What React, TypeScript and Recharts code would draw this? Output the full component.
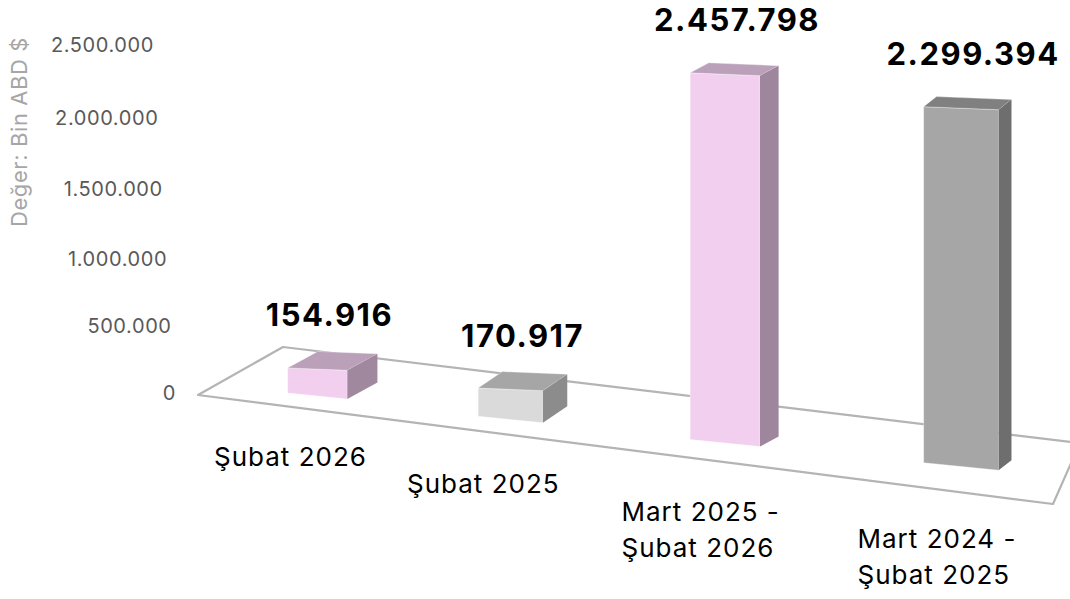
import React from 'react';
import { BarChart, Bar, XAxis, YAxis, ReferenceLine } from 'recharts';

const categories = ['Şubat 2026', 'Şubat 2025', 'Mart 2025 -\nŞubat 2026', 'Mart 2024 -\nŞubat 2025'];
const values = [154916, 170917, 2457798, 2299394];
const yTicks = [0, 500000, 1000000, 1500000, 2000000, 2500000];
const yLabel = 'Değer: Bin ABD $';

// front / top / side colours for each box
const boxColors = [
  { front: '#F2CEEF', top: '#BBA0BA', side: '#A0889F' },
  { front: '#DADADA', top: '#A6A6A6', side: '#8C8C8C' },
  { front: '#F2CEEF', top: '#BBA0BA', side: '#9E879D' },
  { front: '#A6A6A6', top: '#808080', side: '#6E6E6E' },
];

const data = categories.map((name, i) => ({ name, value: values[i] }));

const W = 1070;
const H = 599;
const PLOT_LEFT = 198;
const PLOT_RIGHT = 1050;
const PLOT_TOP = 45;
const ZERO_Y = 393;
const PLOT_W = PLOT_RIGHT - PLOT_LEFT;
const BAR_SIZE = 68;
const FONT = 'Inter, "Open Sans", sans-serif';

const fmt = (v: number) => String(Math.round(v)).replace(/\B(?=(\d{3})+(?!\d))/g, '.');

// fake perspective: maps a flat band centre to the tilted "3D" floor
const project = (bandCx: number, valueH: number) => {
  const u = (bandCx - PLOT_LEFT) / PLOT_W;
  const cx = PLOT_LEFT + 30.6 + 686 * u + 172 * u * u;
  const w = BAR_SIZE * (0.84 + 0.3 * u);
  const bottom = ZERO_Y + 93 * (u - 0.125);
  const h = valueH > 0 ? valueH * (0.96 + 0.16 * u) + 4 : 0;
  const lift = Math.min(h, 360) / 360;
  return { u, cx, w, bottom, top: bottom - h, dx: 33 - 23 * u, dy: -(17 - 7 * lift) };
};

const pts = (p: number[][]) => p.map((q) => q.join(',')).join(' ');

const Box3D = (props: any) => {
  const { x, width, height, index, value } = props;
  const g = project(x + width / 2, height);
  const L = g.cx - g.w / 2;
  const R = g.cx + g.w / 2;
  const tR = g.top + 0.04 * g.w;
  const bR = g.bottom + 0.1 * g.w;
  const c = boxColors[index % boxColors.length];
  return (
    <g>
      <polygon points={pts([[L, g.top], [R, tR], [R, bR], [L, g.bottom]])} fill={c.front} stroke="#ffffff" strokeOpacity={0.5} strokeWidth={0.8} />
      <polygon points={pts([[L, g.top], [L + g.dx, g.top + g.dy], [R + g.dx, tR + g.dy], [R, tR]])} fill={c.top} stroke="#ffffff" strokeOpacity={0.4} strokeWidth={0.8} />
      <polygon points={pts([[R, tR], [R + g.dx, tR + g.dy], [R + g.dx, bR + g.dy], [R, bR]])} fill={c.side} />
      <text x={g.cx + 12} y={g.top - 53} textAnchor="middle" dominantBaseline="central" fontFamily={FONT} fontWeight={700} fontSize={31} letterSpacing={1.5} fill="#000">
        {fmt(value)}
      </text>
    </g>
  );
};

const Floor = (props: any) => {
  const { x1, y1, x2 } = props;
  return (
    <polygon
      points={pts([[x1, y1 + 2], [x1 + 85, y1 - 46], [x2 + 30, y1 + 50], [x2 + 3, y1 + 111]])}
      fill="#ffffff"
      stroke="#b4b4b4"
      strokeWidth={2.2}
      strokeLinejoin="round"
    />
  );
};

const CategoryTick = (props: any) => {
  const { x, payload } = props;
  const g = project(x, 0);
  const lines = String(payload.value).split('\n');
  return (
    <text x={g.cx - 103} y={g.bottom + 62 + 16 * g.u} fontFamily={FONT} fontSize={26} letterSpacing={1} fill="#000" textAnchor="start">
      {lines.map((l, i) => (
        <tspan key={i} x={g.cx - 103} dy={i === 0 ? '0.35em' : 36}>
          {l}
        </tspan>
      ))}
    </text>
  );
};

const ValueTick = (props: any) => {
  const { x, y, payload } = props;
  const k = payload.value / 500000;
  const bend = 5 * Math.sin((Math.PI * payload.value) / 2500000);
  return (
    <text x={x - 14 - 4.4 * k} y={y + bend} dy="0.35em" textAnchor="end" fontFamily={FONT} fontSize={20} letterSpacing={0.6} fill="#595959">
      {fmt(payload.value)}
    </text>
  );
};

const AxisTitle = (props: any) => {
  const vb = props.viewBox || {};
  const cx = (vb.x ?? 0) + 19;
  const cy = (vb.y ?? PLOT_TOP) + 87;
  return (
    <text x={cx} y={cy} transform={`rotate(-90, ${cx}, ${cy})`} textAnchor="middle" dominantBaseline="central" fontFamily={FONT} fontSize={22} letterSpacing={0.6} fill="#a6a6a6">
      {yLabel}
    </text>
  );
};

export default function App() {
  return (
    <div style={{ position: 'absolute', left: 0, top: 0, width: W, height: H, background: '#fff' }}>
      <BarChart width={W} height={H} data={data} margin={{ top: PLOT_TOP, right: W - PLOT_RIGHT, bottom: H - ZERO_Y - 30, left: 0 }}>
        <ReferenceLine y={0} shape={<Floor />} zIndex={-10} />
        <XAxis dataKey="name" axisLine={false} tickLine={false} height={30} interval={0} tick={<CategoryTick />} />
        <YAxis
          width={PLOT_LEFT}
          domain={[0, 2500000]}
          ticks={yTicks}
          axisLine={false}
          tickLine={false}
          tick={<ValueTick />}
          label={<AxisTitle />}
        />
        <Bar dataKey="value" barSize={BAR_SIZE} shape={<Box3D />} isAnimationActive={false} />
      </BarChart>
    </div>
  );
}
